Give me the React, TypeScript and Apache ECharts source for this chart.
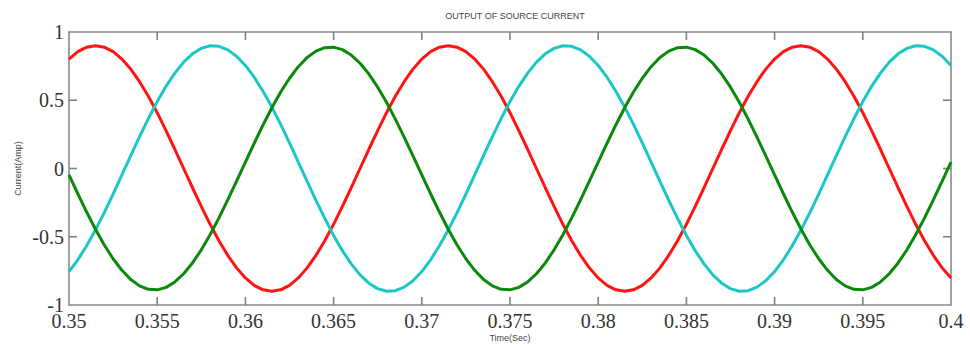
import React, { useEffect, useRef } from "react";
import * as echarts from "echarts";

const times = [
  0.3500, 0.3505, 0.3510, 0.3515, 0.3520, 0.3525, 0.3530, 0.3535, 0.3540, 0.3545,
  0.3550, 0.3555, 0.3560, 0.3565, 0.3570, 0.3575, 0.3580, 0.3585, 0.3590, 0.3595,
  0.3600, 0.3605, 0.3610, 0.3615, 0.3620, 0.3625, 0.3630, 0.3635, 0.3640, 0.3645,
  0.3650, 0.3655, 0.3660, 0.3665, 0.3670, 0.3675, 0.3680, 0.3685, 0.3690, 0.3695,
  0.3700, 0.3705, 0.3710, 0.3715, 0.3720, 0.3725, 0.3730, 0.3735, 0.3740, 0.3745,
  0.3750, 0.3755, 0.3760, 0.3765, 0.3770, 0.3775, 0.3780, 0.3785, 0.3790, 0.3795,
  0.3800, 0.3805, 0.3810, 0.3815, 0.3820, 0.3825, 0.3830, 0.3835, 0.3840, 0.3845,
  0.3850, 0.3855, 0.3860, 0.3865, 0.3870, 0.3875, 0.3880, 0.3885, 0.3890, 0.3895,
  0.3900, 0.3905, 0.3910, 0.3915, 0.3920, 0.3925, 0.3930, 0.3935, 0.3940, 0.3945,
  0.3950, 0.3955, 0.3960, 0.3965, 0.3970, 0.3975, 0.3980, 0.3985, 0.3990, 0.3995,
  0.4000,
];

const redCurrent = [
  0.802, 0.856, 0.889, 0.900, 0.889, 0.856, 0.802, 0.728, 0.636, 0.529,
  0.409, 0.278, 0.141, 0.000, -0.141, -0.278, -0.409, -0.529, -0.636, -0.728,
  -0.802, -0.856, -0.889, -0.900, -0.889, -0.856, -0.802, -0.728, -0.636, -0.529,
  -0.409, -0.278, -0.141, 0.000, 0.141, 0.278, 0.409, 0.529, 0.636, 0.728,
  0.802, 0.856, 0.889, 0.900, 0.889, 0.856, 0.802, 0.728, 0.636, 0.529,
  0.409, 0.278, 0.141, 0.000, -0.141, -0.278, -0.409, -0.529, -0.636, -0.728,
  -0.802, -0.856, -0.889, -0.900, -0.889, -0.856, -0.802, -0.728, -0.636, -0.529,
  -0.409, -0.278, -0.141, 0.000, 0.141, 0.278, 0.409, 0.529, 0.636, 0.728,
  0.802, 0.856, 0.889, 0.900, 0.889, 0.856, 0.802, 0.728, 0.636, 0.529,
  0.409, 0.278, 0.141, 0.000, -0.141, -0.278, -0.409, -0.529, -0.636, -0.728,
  -0.802,
];

const cyanCurrent = [
  -0.755, -0.669, -0.566, -0.450, -0.323, -0.187, -0.047, 0.094, 0.233, 0.366,
  0.490, 0.602, 0.699, 0.779, 0.840, 0.880, 0.899, 0.895, 0.869, 0.822,
  0.755, 0.669, 0.566, 0.450, 0.323, 0.187, 0.047, -0.094, -0.233, -0.366,
  -0.490, -0.602, -0.699, -0.779, -0.840, -0.880, -0.899, -0.895, -0.869, -0.822,
  -0.755, -0.669, -0.566, -0.450, -0.323, -0.187, -0.047, 0.094, 0.233, 0.366,
  0.490, 0.602, 0.699, 0.779, 0.840, 0.880, 0.899, 0.895, 0.869, 0.822,
  0.755, 0.669, 0.566, 0.450, 0.323, 0.187, 0.047, -0.094, -0.233, -0.366,
  -0.490, -0.602, -0.699, -0.779, -0.840, -0.880, -0.899, -0.895, -0.869, -0.822,
  -0.755, -0.669, -0.566, -0.450, -0.323, -0.187, -0.047, 0.094, 0.233, 0.366,
  0.490, 0.602, 0.699, 0.779, 0.840, 0.880, 0.899, 0.895, 0.869, 0.822,
  0.755,
];

const greenCurrent = [
  -0.047, -0.185, -0.319, -0.445, -0.560, -0.661, -0.746, -0.813, -0.860, -0.885,
  -0.889, -0.871, -0.831, -0.771, -0.692, -0.596, -0.485, -0.362, -0.230, -0.093,
  0.047, 0.185, 0.319, 0.445, 0.560, 0.661, 0.746, 0.813, 0.860, 0.885,
  0.889, 0.871, 0.831, 0.771, 0.692, 0.596, 0.485, 0.362, 0.230, 0.093,
  -0.047, -0.185, -0.319, -0.445, -0.560, -0.661, -0.746, -0.813, -0.860, -0.885,
  -0.889, -0.871, -0.831, -0.771, -0.692, -0.596, -0.485, -0.362, -0.230, -0.093,
  0.047, 0.185, 0.319, 0.445, 0.560, 0.661, 0.746, 0.813, 0.860, 0.885,
  0.889, 0.871, 0.831, 0.771, 0.692, 0.596, 0.485, 0.362, 0.230, 0.093,
  -0.047, -0.185, -0.319, -0.445, -0.560, -0.661, -0.746, -0.813, -0.860, -0.885,
  -0.889, -0.871, -0.831, -0.771, -0.692, -0.596, -0.485, -0.362, -0.230, -0.093,
  0.047,
];

const xTickLabels = ["0.35", "0.355", "0.36", "0.365", "0.37", "0.375", "0.38", "0.385", "0.39", "0.395", "0.4"];
const yTickLabels = ["-1", "-0.5", "0", "0.5", "1"];
const xInnerTicks = [0.355, 0.36, 0.365, 0.37, 0.375, 0.38, 0.385, 0.39, 0.395];
const yInnerTicks = [-0.5, 0, 0.5];

const AXIS_COLOR = "#8a8a8a";
const LABEL_FONT = "'Liberation Serif', 'DejaVu Serif', serif";
const SMALL_FONT = "'Liberation Sans', Arial, sans-serif";
const TICK_LEN = 8;

export default function App() {
  const ref = useRef<HTMLDivElement>(null);

  useEffect(() => {
    if (!ref.current) return;
    const chart = echarts.init(ref.current, undefined, { renderer: "svg" });

    const pairs = (vals: number[]) => times.map((t, i) => [t, vals[i]]);
    const xLabel = (v: number) => {
      const idx = Math.round((v - 0.35) / 0.005);
      return xTickLabels[idx] ?? "";
    };
    const yLabel = (v: number) => {
      const idx = Math.round((v + 1) / 0.5);
      return yTickLabels[idx] ?? "";
    };

    const mkLine = () => ({ show: true, onZero: false, lineStyle: { color: AXIS_COLOR, width: 1.6 } });
    const tickStyle = { stroke: "#808080", lineWidth: 1.6 };

    chart.setOption({
      animation: false,
      backgroundColor: "#ffffff",
      title: {
        text: "OUTPUT OF SOURCE CURRENT",
        left: 510,
        textAlign: "center",
        top: 6,
        textStyle: { fontFamily: SMALL_FONT, fontSize: 9, fontWeight: "normal", color: "#444" },
      },
      grid: { left: 69, right: 19, top: 32, bottom: 40, containLabel: false, outerBoundsMode: "none" },
      xAxis: [
        {
          type: "value",
          min: 0.35,
          max: 0.4,
          interval: 0.005,
          position: "bottom",
          name: "Time(Sec)",
          nameLocation: "middle",
          nameGap: 28,
          nameMoveOverlap: false,
          nameTextStyle: { fontFamily: SMALL_FONT, fontSize: 9, color: "#444" },
          axisLine: mkLine(),
          axisTick: { show: false },
          splitLine: { show: false },
          axisLabel: {
            formatter: xLabel,
            fontFamily: LABEL_FONT,
            fontSize: 20,
            color: "#333",
            margin: 6,
            showMinLabel: true,
            showMaxLabel: true,
          },
        },
        {
          type: "value",
          min: 0.35,
          max: 0.4,
          interval: 0.005,
          position: "top",
          axisLine: mkLine(),
          axisTick: { show: false },
          splitLine: { show: false },
          axisLabel: { show: false },
        },
      ],
      yAxis: [
        {
          type: "value",
          min: -1,
          max: 1,
          interval: 0.5,
          position: "left",
          name: "Current(Amp)",
          nameLocation: "middle",
          nameGap: 47,
          nameMoveOverlap: false,
          nameRotate: 90,
          nameTextStyle: { fontFamily: SMALL_FONT, fontSize: 9, color: "#444" },
          axisLine: mkLine(),
          axisTick: { show: false },
          splitLine: { show: false },
          axisLabel: {
            formatter: yLabel,
            fontFamily: LABEL_FONT,
            fontSize: 20,
            color: "#333",
            margin: 5,
          },
        },
        {
          type: "value",
          min: -1,
          max: 1,
          interval: 0.5,
          position: "right",
          axisLine: mkLine(),
          axisTick: { show: false },
          splitLine: { show: false },
          axisLabel: { show: false },
        },
      ],
      series: [
        {
          name: "Phase A",
          type: "line",
          data: pairs(redCurrent),
          smooth: false,
          showSymbol: false,
          lineStyle: { color: "#ff1414", width: 3 },
          z: 3,
        },
        {
          name: "Phase B",
          type: "line",
          data: pairs(cyanCurrent),
          smooth: false,
          showSymbol: false,
          lineStyle: { color: "#1cc6c6", width: 3 },
          z: 3,
        },
        {
          name: "Phase C",
          type: "line",
          data: pairs(greenCurrent),
          smooth: false,
          showSymbol: false,
          lineStyle: { color: "#0c880c", width: 3 },
          z: 3,
        },
        {
          name: "xTicks",
          type: "custom",
          silent: true,
          clip: false,
          z: 2,
          data: xInnerTicks.map((v) => [v, 0]),
          renderItem: (_params: any, api: any) => {
            const v = api.value(0);
            const b = api.coord([v, -1]);
            const t = api.coord([v, 1]);
            return {
              type: "group",
              children: [
                { type: "line", shape: { x1: b[0], y1: b[1], x2: b[0], y2: b[1] - TICK_LEN }, style: tickStyle },
                { type: "line", shape: { x1: t[0], y1: t[1], x2: t[0], y2: t[1] + TICK_LEN }, style: tickStyle },
              ],
            };
          },
        },
        {
          name: "yTicks",
          type: "custom",
          silent: true,
          clip: false,
          z: 2,
          data: yInnerTicks.map((v) => [0.35, v]),
          renderItem: (_params: any, api: any) => {
            const v = api.value(1);
            const l = api.coord([0.35, v]);
            const r = api.coord([0.4, v]);
            return {
              type: "group",
              children: [
                { type: "line", shape: { x1: l[0], y1: l[1], x2: l[0] + TICK_LEN, y2: l[1] }, style: tickStyle },
                { type: "line", shape: { x1: r[0], y1: r[1], x2: r[0] - TICK_LEN, y2: r[1] }, style: tickStyle },
              ],
            };
          },
        },
      ],
    });

    return () => chart.dispose();
  }, []);

  return (
    <div
      ref={ref}
      style={{ position: "fixed", left: 0, top: 0, width: 970, height: 345, background: "#fff" }}
    />
  );
}
